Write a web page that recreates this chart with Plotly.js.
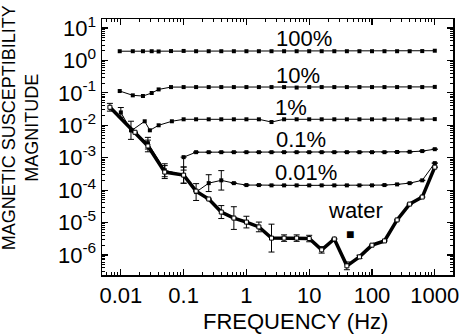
<!DOCTYPE html>
<html><head><meta charset="utf-8">
<script src="https://cdn.plot.ly/plotly-3.0.1.min.js"></script>
<style>body{margin:0;background:#fff}#chart{width:466px;height:336px}</style>
</head><body><div id="chart"></div>
<script>
// ---- data ----
const freq100 = [0.0096,0.0155,0.0225,0.031,0.04,0.063,0.1,0.158,0.251,0.398,0.631,1,1.58,2.51,3.98,6.31,10,15.8,25.1,39.8,63.1,100,158,251,398,631,1000];
const mag100  = [1.93,1.93,1.93,1.93,1.9,1.95,1.97,1.93,1.93,1.93,1.93,1.93,1.93,1.93,1.93,1.93,1.93,1.93,1.93,1.93,1.93,1.93,1.93,1.93,1.93,1.95,2.0];

const freq10 = [0.0096,0.0155,0.0225,0.031,0.04,0.063,0.1,0.158,0.251,0.398,0.631,1,1.58,2.51,3.98,6.31,10,15.8,25.1,39.8,63.1,100,158,251,398,631,1000];
const mag10  = [0.114,0.084,0.080,0.099,0.128,0.151,0.151,0.151,0.151,0.151,0.151,0.151,0.151,0.151,0.151,0.146,0.151,0.151,0.151,0.151,0.151,0.151,0.151,0.151,0.151,0.151,0.153];

const freq1 = [0.015,0.024,0.029,0.04,0.065,0.1,0.158,0.251,0.398,0.631,1,1.58,2.51,3.98,6.31,10,15.8,25.1,39.8,63.1,100,158,251,398,631,1000];
const mag1  = [0.0070,0.0133,0.0070,0.0100,0.0133,0.0153,0.0153,0.0153,0.0153,0.0153,0.0153,0.0153,0.0126,0.0153,0.0153,0.0153,0.0153,0.0153,0.0153,0.0153,0.0153,0.0153,0.0153,0.0153,0.0153,0.0155];

const freq01 = [0.1,0.158,0.251,0.398,0.631,1,1.58,2.51,3.98,6.31,10,15.8,25.1,39.8,63.1,100,158,251,398,631,1000];
const mag01  = [0.00104,0.00148,0.00148,0.00148,0.00148,0.00148,0.00148,0.00148,0.00148,0.00148,0.00148,0.00148,0.00148,0.00148,0.00148,0.00148,0.00148,0.00150,0.00152,0.0016,0.00183];
const errUp01   = [0,0,0,0,0,0,0,0,0,0,0,0,0,0,0,0,0,0,0,0,0];   // decades
const errDown01 = [0.4,0,0,0,0,0,0,0,0,0,0,0,0,0,0,0,0,0,0,0,0];

const freq001 = [0.01,0.0145,0.027,0.05,0.1,0.158,0.251,0.398,0.631,1,1.58,2.51,3.98,6.31,10,15.8,25.1,39.8,63.1,100,158,251,398,631,1000];
const mag001  = [0.025,0.0070,0.0028,4.1e-4,2.9e-4,8.7e-5,1.64e-4,2.0e-4,1.64e-4,1.43e-4,1.43e-4,1.4e-4,1.4e-4,1.4e-4,1.4e-4,1.4e-4,1.4e-4,1.4e-4,1.4e-4,1.4e-4,1.43e-4,1.5e-4,1.64e-4,2.0e-4,6.8e-4];
const err001  = [0.15,0.28,0.18,0.2,0.25,0.26,0.26,0.3,0,0,0,0,0,0,0,0,0,0,0,0,0,0,0,0,0]; // decades

const freqWater = [0.0067,0.0168,0.027,0.05,0.1,0.158,0.251,0.398,0.631,1,1.58,2.51,3.98,6.31,10,15.8,25.1,39.8,63.1,100,158,251,398,631,1000];
const magWater  = [0.036,0.0061,0.0023,3.6e-4,2.9e-4,9.3e-5,5.3e-5,2.1e-5,1.37e-5,1.03e-5,7.3e-6,3.3e-6,3.3e-6,3.3e-6,3.2e-6,1.43e-6,3.1e-6,4.6e-7,8.7e-7,2.0e-6,2.7e-6,1.2e-5,3.7e-5,6.1e-5,5.1e-4];
const errWater  = [0.12,0,0.18,0.2,0.25,0,0,0.2,0.35,0.18,0.15,0.43,0.1,0.1,0.1,0.1,0,0.12,0.05,0,0,0,0,0,0]; // decades

const xTickVals = [0.01,0.1,1,10,100,1000];
const xTickText = ['0.01','0.1','1','10','100','1000'];
const yExps = [-6,-5,-4,-3,-2,-1,0,1];

const seriesLabels = ['100%','10%','1%','0.1%','0.01%'];
// ---------------------------------------

const up = (v,e)=>v.map((y,i)=>y*(Math.pow(10,e[i])-1));
const dn = (v,e)=>v.map((y,i)=>y*(1-Math.pow(10,-e[i])));

const thin = {mode:'lines+markers', line:{color:'#000',width:1}, marker:{symbol:'square',size:4,color:'#000'}, showlegend:false, hoverinfo:'x+y'};
const ebar = (v,eu,ed)=>({type:'data',symmetric:false,array:up(v,eu),arrayminus:dn(v,ed),color:'#000',thickness:1,width:3});

const traces = [
  Object.assign({x:freq100,y:mag100,name:'100%'},thin),
  Object.assign({x:freq10,y:mag10,name:'10%'},thin),
  Object.assign({x:freq1,y:mag1,name:'1%'},thin),
  Object.assign({x:freq01,y:mag01,name:'0.1%',error_y:ebar(mag01,errUp01,errDown01)},thin),
  Object.assign({x:freq001,y:mag001,name:'0.01%',error_y:ebar(mag001,err001,err001)},thin),
  {x:freqWater,y:magWater,name:'water',mode:'lines+markers',line:{color:'#000',width:3.5},
   marker:{symbol:'square',size:4,color:'#fff',line:{color:'#000',width:1}},
   error_y:ebar(magWater,errWater,errWater),showlegend:false}
];

const minorX=[]; for(let e=-3;e<=3;e++){for(let m=2;m<=9;m++){minorX.push(m*Math.pow(10,e));}}
const minorY=[]; for(let e=-7;e<=1;e++){for(let m=2;m<=9;m++){minorY.push(m*Math.pow(10,e));}}

const font = 'Liberation Sans, Arial, sans-serif';
const axisBase = {type:'log',showline:true,linecolor:'#000',linewidth:1.5,mirror:'ticks',ticks:'inside',
  ticklen:6,tickwidth:1.2,tickcolor:'#000',showgrid:false,zeroline:false,
  tickfont:{family:font,size:22,color:'#000'}};

const lab = (text,x,y,size)=>({text:text,xref:'paper',yref:'paper',x:x,y:y,xanchor:'center',yanchor:'middle',showarrow:false,font:{size:size}});

const layout = {
  width:466,height:336,paper_bgcolor:'#fff',plot_bgcolor:'#fff',
  margin:{l:102,r:13,t:19,b:61},
  font:{family:font,color:'#000'},
  xaxis:Object.assign({},axisBase,{range:[-2.30,3.29],tickmode:'array',tickvals:xTickVals,ticktext:xTickText,
    minor:{tickmode:'array',tickvals:minorX,ticks:'inside',ticklen:3,tickwidth:1,tickcolor:'#000',showgrid:false}}),
  yaxis:Object.assign({},axisBase,{range:[-6.62,1.28],tickmode:'array',
    tickvals:yExps.map(e=>Math.pow(10,e)),ticktext:yExps.map(e=>'10<sup>'+e+'</sup>'),
    minor:{tickmode:'array',tickvals:minorY,ticks:'inside',ticklen:3,tickwidth:1,tickcolor:'#000',showgrid:false}}),
  annotations:[
    lab(seriesLabels[0],0.575,0.925,22),
    lab(seriesLabels[1],0.558,0.778,22),
    lab(seriesLabels[2],0.538,0.655,22),
    lab(seriesLabels[3],0.567,0.530,22),
    lab(seriesLabels[4],0.581,0.402,22),
    lab('water',0.722,0.252,22),
    lab('■',0.707,0.160,14),
    lab('FREQUENCY (Hz)',0.55,-0.183,22),
    Object.assign(lab('MAGNETIC SUSCEPTIBILITY<br>MAGNITUDE',-0.232,0.575,18),{textangle:-90})
  ]
};

Plotly.newPlot('chart',traces,layout,{staticPlot:true});
</script>
</body></html>
